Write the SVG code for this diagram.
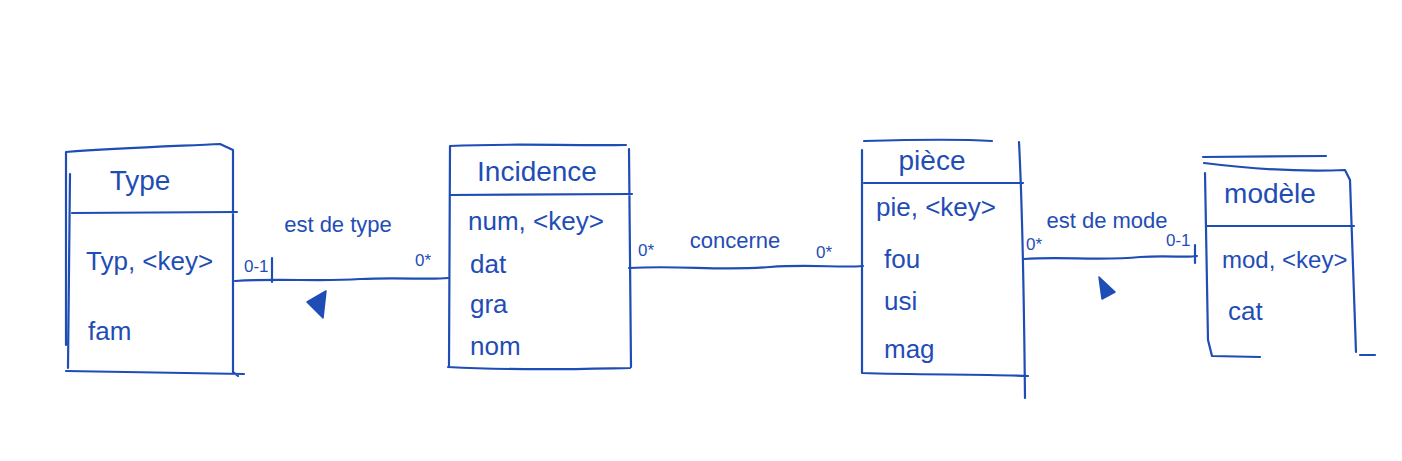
<svg xmlns="http://www.w3.org/2000/svg" width="1402" height="461" viewBox="0 0 1402 461">
<style>
.s{fill:none;stroke:#1f4db6;stroke-width:2.2;stroke-linecap:round;stroke-linejoin:round}
.t{fill:#1f4db6;font-family:"Liberation Sans",Arial,sans-serif;font-size:26px}
.h{font-size:28px}
.k{font-size:24px}
.l{font-size:22px}
.m{font-size:17px}
.a{fill:#1f4db6;stroke:#1f4db6;stroke-width:1.5;stroke-linejoin:round}
</style>
<rect width="1402" height="461" fill="#ffffff"/>
<g id="connectors">
  <path class="s" d="M235 281 C280 278 320 282 360 279 C400 277 430 280 448 278"/>
  <path class="s" d="M629 268 C680 265 720 271 770 267 C810 264 840 268 863 266"/>
  <path class="s" d="M1024 259 C1060 256 1100 261 1140 257 C1170 255 1185 258 1197 256"/>
  <path class="s" d="M272 258 L272 282"/>
  <path class="s" d="M1195 245 L1195 263"/>
  <path class="a" d="M307 302 L326 291 L323 318 Z"/>
  <path class="a" d="M1099 277 L1115 292 L1102 299 Z"/>
  <text class="t l" x="338" y="232" text-anchor="middle">est de type</text>
  <text class="t m" x="244" y="272">0-1</text>
  <text class="t m" x="415" y="266">0*</text>
  <text class="t l" x="735" y="248" text-anchor="middle">concerne</text>
  <text class="t m" x="638" y="256">0*</text>
  <text class="t m" x="816" y="258">0*</text>
  <text class="t l" x="1107" y="228" text-anchor="middle">est de mode</text>
  <text class="t m" x="1026" y="250">0*</text>
  <text class="t m" x="1166" y="246">0-1</text>
</g>
<g id="node-type">
  <path class="s" d="M66 152 C120 148 180 146 220 144 L233 150 L233 372 L238 376 M66 152 L66 345 M70 174 L68 368 M66 371 L244 374 M72 213 L237 212"/>
  <text class="t h" x="140" y="190" text-anchor="middle">Type</text>
  <text class="t" x="86" y="270">Typ, &lt;key&gt;</text>
  <text class="t" x="88" y="340">fam</text>
</g>
<g id="node-incidence">
  <path class="s" d="M450 146 C510 143 570 146 626 145 M450 146 L449 366 M629 149 L631 367 M448 367 C520 371 580 369 630 368 M450 195 L632 194"/>
  <text class="t h" x="537" y="181" text-anchor="middle">Incidence</text>
  <text class="t" x="468" y="230">num, &lt;key&gt;</text>
  <text class="t" x="470" y="273">dat</text>
  <text class="t" x="470" y="313">gra</text>
  <text class="t" x="470" y="355">nom</text>
</g>
<g id="node-piece">
  <path class="s" d="M864 141 C900 140 960 139 992 141 M862 150 L862 373 M1019 142 C1022 200 1024 300 1025 398 M862 373 C920 375 980 374 1028 376 M864 183 L1023 183"/>
  <text class="t h" x="932" y="170" text-anchor="middle">pièce</text>
  <text class="t" x="876" y="216">pie, &lt;key&gt;</text>
  <text class="t" x="884" y="268">fou</text>
  <text class="t" x="884" y="310">usi</text>
  <text class="t" x="884" y="358">mag</text>
</g>
<g id="node-modele">
  <path class="s" d="M1203 157 L1326 156 M1204 163 C1260 170 1300 172 1345 170 L1350 180 L1356 352 M1205 173 L1208 340 L1212 356 M1207 226 L1354 226 M1212 356 L1260 357 M1360 355 L1375 355"/>
  <text class="t h" x="1270" y="203" text-anchor="middle">modèle</text>
  <text class="t k" x="1222" y="268">mod, &lt;key&gt;</text>
  <text class="t" x="1228" y="320">cat</text>
</g>
</svg>
